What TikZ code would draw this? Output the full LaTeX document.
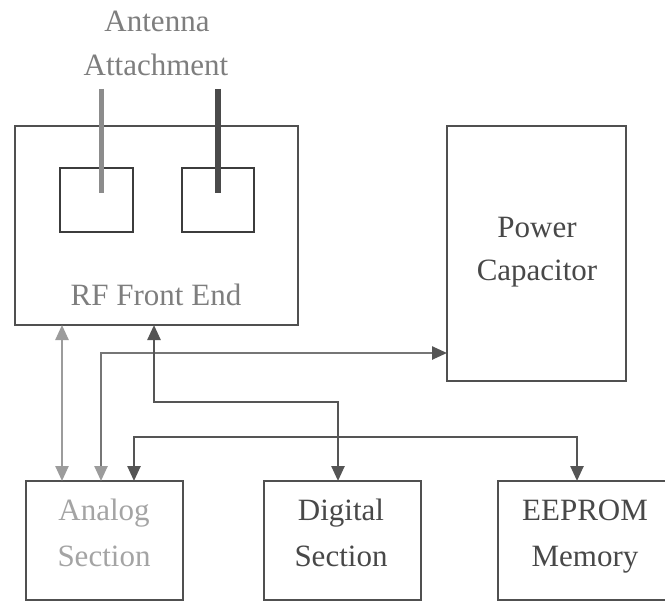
\documentclass[tikz,border=0pt]{standalone}
\usepackage{fontspec}
\setmainfont{Liberation Serif}
\usetikzlibrary{arrows.meta}
\definecolor{frame}{HTML}{505050}
\definecolor{innerframe}{HTML}{3C3C3C}
\definecolor{txtlight}{HTML}{A4A4A4}
\definecolor{txtmid}{HTML}{7E7E7E}
\definecolor{txtdark}{HTML}{484848}
\definecolor{linklight}{HTML}{9C9C9C}
\definecolor{linkmid}{HTML}{767676}
\definecolor{linkdark}{HTML}{555555}
\definecolor{barlight}{HTML}{8C8C8C}
\definecolor{bardark}{HTML}{4A4A4A}
\begin{document}
\begin{tikzpicture}[x=1pt,y=-1pt,
  box/.style={draw=frame, line width=2.2pt, rectangle, inner sep=0pt, outer sep=0pt},
  subbox/.style={draw=innerframe, line width=1.6pt, rectangle, inner sep=0pt, outer sep=0pt},
  lbl/.style={font=\fontsize{31}{44}\selectfont, anchor=base, inner sep=0pt},
  link/.style={line width=2.5pt,
    {Triangle[length=15pt,width=13pt]}-{Triangle[length=15pt,width=13pt]}},
  bar/.style={line cap=butt}
]
\fill[white] (0,0) rectangle (665,602);
\useasboundingbox (0,0) rectangle (665,602);

% blocks
\node[box, minimum width=283pt, minimum height=199pt] (rf) at (156.5,225.5) {};
\node[subbox, minimum width=73pt, minimum height=64pt] (in1) at (96.5,200) {};
\node[subbox, minimum width=72pt, minimum height=64pt] (in2) at (218,200) {};
\node[box, minimum width=179pt, minimum height=255pt] (power) at (536.5,253.5) {};
\node[box, minimum width=157pt, minimum height=119pt] (analog) at (104.5,540.5) {};
\node[box, minimum width=157pt, minimum height=119pt] (digital) at (342.5,540.5) {};
\node[box, minimum width=174pt, minimum height=119pt] (eeprom) at (585,540.5) {};

% labels
\node[lbl, text=txtmid] (antA) at (157,32) {Antenna};
\node[lbl, text=txtmid] (antB) at (156,76) {Attachment};
\node[lbl, text=txtmid] (rftxt) at (156,305) {RF Front End};
\node[lbl, text=txtdark] (pw1) at (537,237) {Power};
\node[lbl, text=txtdark] (pw2) at (537,280) {Capacitor};
\node[lbl, text=txtlight] (an1) at (104,520) {Analog};
\node[lbl, text=txtlight] (an2) at (104,566) {Section};
\node[lbl, text=txtdark] (dg1) at (341,520) {Digital};
\node[lbl, text=txtdark] (dg2) at (341,566) {Section};
\node[lbl, text=txtdark] (ee1) at (585,520) {EEPROM};
\node[lbl, text=txtdark] (ee2) at (585,566) {Memory};

% antenna attachments
\coordinate (a1top) at (101,89);
\coordinate (a1end) at (101,193);
\coordinate (a2top) at (218,89);
\coordinate (a2end) at (218,193);
\draw[bar, draw=barlight, line width=5pt] (a1top) -- (a1end);
\draw[bar, draw=bardark, line width=6pt] (a2top) -- (a2end);

% routing points
\coordinate (v1) at (62,0);
\coordinate (v2) at (101,353);
\coordinate (v3) at (154,402);
\coordinate (v3b) at (338,402);
\coordinate (v4) at (134,437);
\coordinate (v4b) at (577,437);

% connectors
\draw[link, draw=linklight] (rf.south -| v1) -- (analog.north -| v1);
\draw[link, draw=linkmid,
  {Triangle[length=15pt,width=13pt,color=linklight]}-{Triangle[length=15pt,width=13pt,color=linkdark]}]
  (analog.north -| v2) |- (power.west |- v2);
\draw[link, draw=linkdark] (rf.south -| v3) -- (v3) -- (v3b) -- (digital.north -| v3b);
\draw[link, draw=linkdark] (analog.north -| v4) -- (v4) -- (v4b) -- (eeprom.north -| v4b);
\end{tikzpicture}
\end{document}
